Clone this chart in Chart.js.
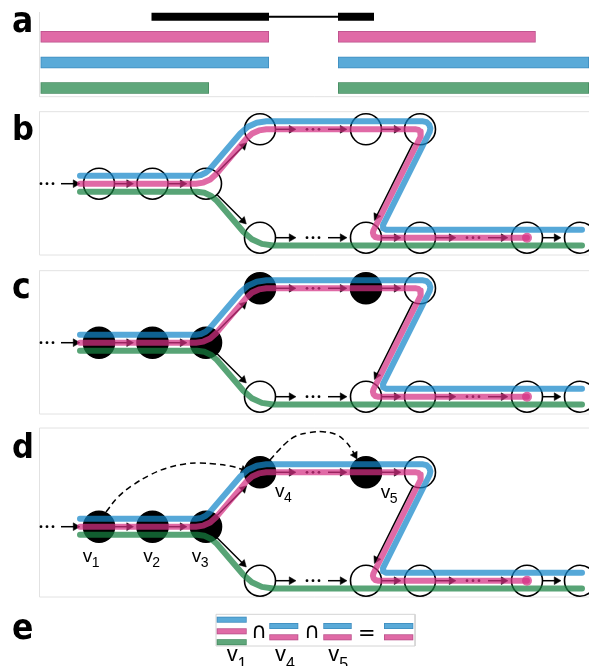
<!DOCTYPE html>
<html><head><meta charset="utf-8">
<script src="https://cdn.jsdelivr.net/npm/chart.js@4"></script>
<style>
html,body{margin:0;padding:0;background:#fff;}
#wrap{position:relative;width:589px;height:666px;overflow:hidden;background:#fff;}
#c{position:absolute;left:0;top:0;}
.t{position:absolute;white-space:nowrap;line-height:1;color:#000;}
.lab{font-family:"Liberation Sans Narrow","DejaVu Sans Condensed","Liberation Sans",sans-serif;font-weight:bold;}
.v{font-family:"Liberation Sans",Arial,sans-serif;}
.sym{font-family:"DejaVu Sans",sans-serif;}
</style></head><body>
<div id="wrap"><canvas id="c" width="589" height="666"></canvas></div>
<script>
// ---------------- DATA ----------------
// panel labels: [text, x, baseline, size]
const panelLabels = [['a',12,32.7,35],['b',12,140,34],['c',12,299,35],['d',12,458,34],['e',12,640,35]];

// panel a: gene model (black) and three transcripts
const geneExons = [[151.5,269],[338,374]];
const geneIntron = [269,338];
const geneY = 16.7;
const transcriptNames = ['pink','blue','green'];
const transcriptY = [36.8,62.5,88];
const transcriptSpans = [
  [[40.6,269],[338,535.7]],
  [[40.6,269],[338,589]],
  [[40.6,209],[338,589]]
];

// graph panels b, c, d share one layout, shifted vertically
const panelShift = [0,159,343];
const nodes = [[99,183.7],[152.5,183.7],[206,183.7],[260,129.3],[366,129.3],[420,129.3],
               [260,237.7],[366,237.7],[420,237.7],[527,237.7],[580,237.7]];
const filledNodes = [[],[0,1,2,3,4],[0,1,2,3,4]];
// graph edges (arrows) [x1,y1,tipX,tipY]
const edges = [
  [61,183.7,80,183.7],[115,183.7,133.5,183.7],[168.5,183.7,187,183.7],
  [217.3,172.3,246.7,142.7],[217.3,195,246.3,224],
  [276,129.3,296,129.3],[328,129.3,347,129.3],[382,129.3,401,129.3],
  [412.8,143.6,374.4,220.5],
  [276,237.7,296,237.7],[328,237.7,347,237.7],[382,237.7,401,237.7],
  [436,237.7,456,237.7],[488,237.7,508,237.7],[543,237.7,561,237.7]
];
const ellipsisDots = [[41,183.7],[47,183.7],[53,183.7],[307,129.3],[313,129.3],[319,129.3],
  [307,237.7],[313,237.7],[319,237.7],[467,237.7],[473,237.7],[479,237.7]];
// transcript paths through the graph
const pinkPath = [[80,183.7],[196,183.7],[203.4,182.6],[210.2,179.5],[215.8,174.6],[246.6,138.4],
  [252.2,133.5],[259,130.4],[266.4,129.3],[416,129.3],[418.4,129.9],[420.2,131.6],[420.9,133.9],
  [420.4,136.5],[373.4,230.5],[372.9,232.8],[373.6,235.3],[375.35,237],[377.8,237.7],[527,237.7]];
const bluePath = [[80,175.7],[195.9,175.7],[201,175],[205.7,172.8],[209.6,169.4],[240.5,133.2],
  [247.9,126.8],[256.7,122.7],[266.4,121.3],[423,121.3],[426.6,122.2],[429.3,124.8],[430.4,128.3],
  [429.6,132],[383,225.2],[383.1,228.15],[385.8,229.7],[582,229.7]];
const greenPath = [[80,191.7],[197,191.7],[204.4,192.8],[211.2,195.9],[216.8,200.8],[243.3,231.8],
  [251.8,239.2],[261.9,243.9],[273,245.5],[582,245.5]];
const pinkEnd = [527,237.7];

// panel d: dashed links and node names
const dashedLinks = [
  [[106,512],[118,497],[133,485],[150,475],[167,468],[185,464],[200,463],[215,464],[230,466],[241,469],[248,471.5]],
  [[270,460],[278,451],[286,443],[296,436],[310,432.5],[323,431.7],[336,434.5],[346,442],[352,450],[357,459]]
];
const nodeNames = [['1',82.7,561.7],['2',143.3,561.7],['3',191.7,561.7],['4',275,496.7],['5',380.7,498.3]];

// panel e: set intersection
const eBox = [216,614.3,415,646];
const eGroups = [
  {x:[216.7,246.7], bars:[['blue',619.7],['pink',631.3],['green',642.2]], name:'1', lx:226.7},
  {x:[269.3,298.3], bars:[['blue',626],['pink',637.3]], name:'4', lx:275},
  {x:[323.3,351.7], bars:[['blue',626],['pink',637.3]], name:'5', lx:328.3},
  {x:[384,413.3], bars:[['blue',626],['pink',637.3]], name:null}
];
const eSymbols = [['∩',251,639,22],['∩',304,639,22],['=',358,641,21]];

// ---------------- STYLE ----------------
const solid = {pink:'#E06AA6', blue:'#5AAAD8', green:'#5FA77B'};
const edge = {pink:'#B9508A', blue:'#3E8CBE', green:'#468B61'};
const band = {pink:'rgba(212,48,132,0.72)', blue:'rgba(21,134,201,0.72)', green:'rgba(24,129,65,0.72)'};
const frameColor = '#E2E2E2';

// ---------------- BUILD ----------------
const ds = [];
function P(arr, dy){ return arr.map(p=>({x:p[0], y:p[1]+(dy||0)})); }
function addLine(points, color, width, extra){
  ds.push(Object.assign({type:'scatter', data:points, showLine:true, borderColor:color, borderWidth:width,
    pointRadius:0, fill:false, borderCapStyle:'butt', borderJoinStyle:'miter', tension:0}, extra||{}));
}
function addPoints(points, extra){
  ds.push(Object.assign({type:'scatter', data:points, showLine:false}, extra));
}
function addBar(x0,x1,yc,h,fillC,edgeC){
  addLine(P([[x0,yc],[x1,yc]]), edgeC, h);
  addLine(P([[x0+0.8,yc],[x1-0.8,yc]]), fillC, h-1.6);
}

// frames
addLine(P([[39.5,12],[39.5,96.7],[589,96.7]]), frameColor, 1);
[[111.7,255],[270.7,414],[428,597]].forEach(f=>{
  addLine(P([[589,f[0]],[39.5,f[0]],[39.5,f[1]],[589,f[1]]]), frameColor, 1);
});
addLine(P([[eBox[0],eBox[1]],[eBox[2],eBox[1]],[eBox[2],eBox[3]],[eBox[0],eBox[3]],[eBox[0],eBox[1]]]), '#D4D4D4', 1);

// panel a
addLine(P([[geneIntron[0],geneY],[geneIntron[1],geneY]]), '#000', 2);
geneExons.forEach(e=>addLine(P([[e[0],geneY],[e[1],geneY]]), '#000', 8));
transcriptSpans.forEach((spans,i)=>{
  const n = transcriptNames[i];
  spans.forEach(s=>addBar(s[0],s[1],transcriptY[i],11.5,solid[n],edge[n]));
});

// panel e bars
eGroups.forEach(g=>g.bars.forEach(b=>addBar(g.x[0],g.x[1],b[1],6,solid[b[0]],edge[b[0]])));

// graph panels
const R = 4.5;
const heads = [], headRot = [];
function arrow(fx,fy,tx,ty){
  const dx=tx-fx, dy=ty-fy, L=Math.hypot(dx,dy), ux=dx/L, uy=dy/L;
  heads.push({x:tx-R*ux, y:ty-R*uy});
  headRot.push(Math.atan2(uy,ux)*180/Math.PI+90);
  return [tx-0.6*R*ux, ty-0.6*R*uy];
}
panelShift.forEach((dy,pi)=>{
  edges.forEach(e=>{
    const end = arrow(e[0],e[1]+dy,e[2],e[3]+dy);
    addLine([{x:e[0],y:e[1]+dy},{x:end[0],y:end[1]}], '#000', 1.5);
  });
  addPoints(P(ellipsisDots,dy), {pointRadius:1.4, pointBackgroundColor:'#000', pointBorderWidth:0});
});
// dashed links (panel d, absolute coords)
dashedLinks.forEach(l=>{
  const a=l[l.length-2], t=l[l.length-1];
  const end = arrow(a[0],a[1],t[0],t[1]);
  const pts = l.slice(0,-1).map(p=>({x:p[0],y:p[1]}));
  pts.push({x:end[0],y:end[1]});
  addLine(pts, '#000', 1.5, {borderDash:[6,4], tension:0.4});
});
addPoints(heads, {pointStyle:'triangle', pointRadius:R, pointRotation:headRot,
  pointBackgroundColor:'#000', pointBorderColor:'#000', pointBorderWidth:0.5});

// nodes
panelShift.forEach((dy,pi)=>{
  const open=[], filled=[];
  nodes.forEach((n,i)=>(filledNodes[pi].includes(i)?filled:open).push({x:n[0],y:n[1]+dy}));
  addPoints(open, {pointRadius:15.5, pointBorderWidth:1.6, pointBorderColor:'#000', pointBackgroundColor:'rgba(0,0,0,0)'});
  if(filled.length) addPoints(filled, {pointRadius:15.5, pointBorderWidth:1.6, pointBorderColor:'#000', pointBackgroundColor:'#000'});
});
// transcript bands
panelShift.forEach(dy=>{
  [['green',greenPath],['pink',pinkPath],['blue',bluePath]].forEach(([n,path])=>{
    addLine(P(path,dy), band[n], 6, {borderCapStyle:'round', borderJoinStyle:'round'});
  });
  addPoints(P([pinkEnd],dy), {pointRadius:5, pointBackgroundColor:band.pink, pointBorderWidth:0});
});

ds.forEach((d,i)=>{ d.order = 10000 - i; });

new Chart(document.getElementById('c'), {
  type:'scatter',
  data:{datasets:ds},
  options:{
    responsive:false, animation:false, devicePixelRatio:1, events:[],
    layout:{padding:0, autoPadding:false},
    plugins:{legend:{display:false}, tooltip:{enabled:false}},
    scales:{
      x:{type:'linear', min:0, max:589, display:false},
      y:{type:'linear', min:0, max:666, reverse:true, display:false}
    }
  }
});

// ---------------- TEXT ----------------
const wrap = document.getElementById('wrap');
function addText(str, x, baseline, size, cls){
  const s = document.createElement('span');
  s.className = 't ' + cls;
  s.textContent = str;
  s.style.left = x + 'px';
  s.style.top = (baseline - 0.846*size) + 'px';
  s.style.fontSize = size + 'px';
  wrap.appendChild(s);
}
panelLabels.forEach(l=>addText(l[0], l[1], l[2], l[3], 'lab'));
nodeNames.forEach(n=>{
  addText('v', n[1], n[2], 19, 'v');
  addText(n[0], n[1]+9, n[2]+5, 14, 'v');
});
eGroups.forEach(g=>{
  if(!g.name) return;
  addText('v', g.lx, 661.7, 22, 'v');
  addText(g.name, g.lx+11, 670, 16, 'v');
});
eSymbols.forEach(s=>addText(s[0], s[1], s[2], s[3], 'sym'));
</script>
</body></html>
